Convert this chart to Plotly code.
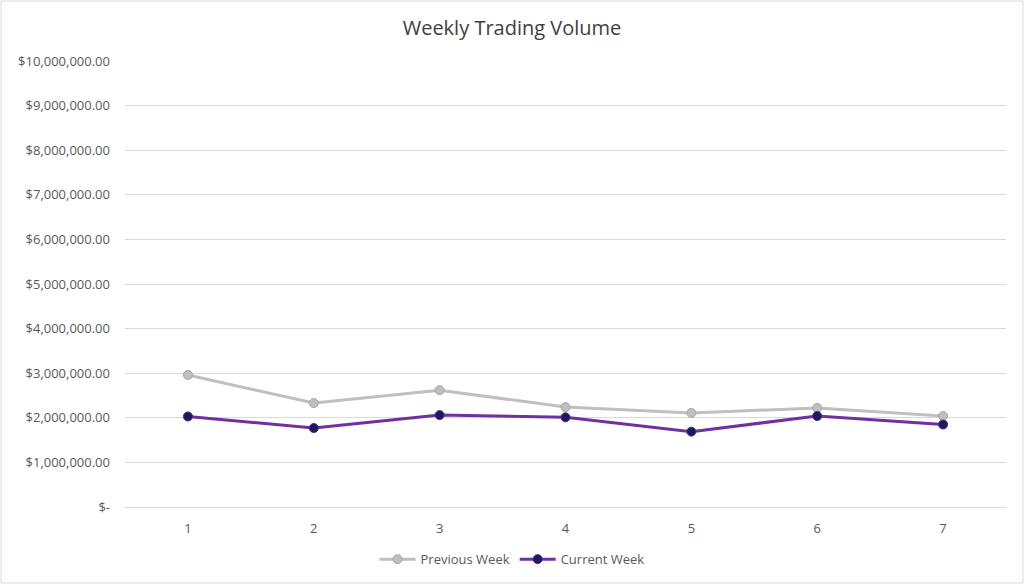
import plotly.graph_objects as go

days = ["1", "2", "3", "4", "5", "6", "7"]
previous_week = [2960000, 2330000, 2620000, 2240000, 2110000, 2220000, 2040000]
current_week = [2030000, 1770000, 2060000, 2010000, 1690000, 2040000, 1850000]
y_ticks = [0, 1000000, 2000000, 3000000, 4000000, 5000000,
           6000000, 7000000, 8000000, 9000000, 10000000]
y_labels = ["$-" if v == 0 else "${:,.2f}".format(v) for v in y_ticks]

font_family = "Open Sans, Liberation Sans, sans-serif"

fig = go.Figure()
fig.add_trace(go.Scatter(
    x=days, y=previous_week, name="Previous Week", mode="lines+markers",
    line=dict(color="#bfbfbf", width=3),
    marker=dict(size=9, color="#bfbfbf", line=dict(color="#a5a5a5", width=1)),
))
fig.add_trace(go.Scatter(
    x=days, y=current_week, name="Current Week", mode="lines+markers",
    line=dict(color="#7030a0", width=3),
    marker=dict(size=9, color="#1a1a5e", line=dict(color="#4b2a8a", width=1)),
))

fig.update_layout(
    width=1024, height=584,
    margin=dict(l=125, r=18, t=61, b=77, autoexpand=False),
    paper_bgcolor="white", plot_bgcolor="white",
    font=dict(family=font_family, color="#595959", size=13),
    title=dict(text="Weekly Trading Volume", x=0.5, xanchor="center",
               y=0.952, yanchor="middle",
               font=dict(size=20, color="#404040", family=font_family)),
    xaxis=dict(type="category", range=[-0.5, 6.5], showgrid=False,
               showline=True, linecolor="#d9d9d9", ticks="", zeroline=False,
               ticklabelstandoff=9, tickfont=dict(size=13, color="#595959")),
    yaxis=dict(range=[0, 10000000], tickvals=y_ticks, ticktext=y_labels,
               showgrid=True, gridcolor="#d9d9d9", gridwidth=1,
               zeroline=False, showline=False, ticks="", ticklabelstandoff=14,
               tickfont=dict(size=13, color="#595959")),
    legend=dict(orientation="h", x=(512 - 125) / 881, xanchor="center",
                y=-0.117, yanchor="middle", itemwidth=36,
                font=dict(size=13, color="#595959")),
    showlegend=True,
)

# thin outer chart border
fig.add_shape(type="rect", xref="paper", yref="paper",
              x0=-124 / 881, x1=1 + 17 / 881, y0=-76 / 446, y1=1 + 60 / 446,
              line=dict(color="#d9d9d9", width=1), fillcolor="rgba(0,0,0,0)")

fig.write_html("out.html", config={"displayModeBar": False},
               post_script="document.body.style.margin='0';")
